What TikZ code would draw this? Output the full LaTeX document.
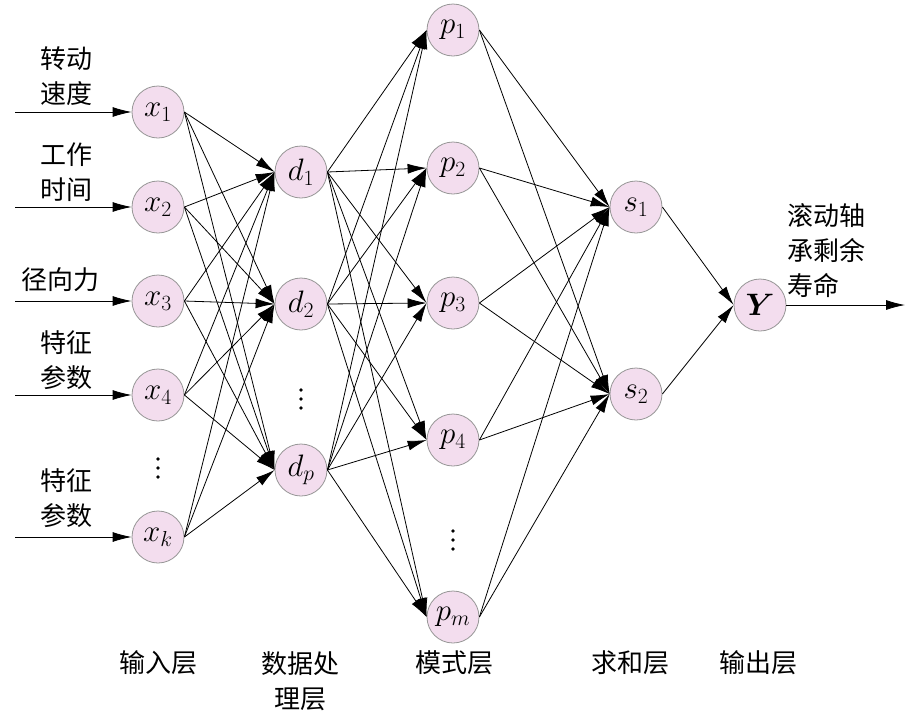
\RequirePackage{fix-cm}
\documentclass[tikz,border=0pt]{standalone}
\usepackage{xcolor}
\usepackage{amsmath}
\usepackage{amssymb}
\usepackage{fontspec}
\usepackage{tikz}
\usetikzlibrary{arrows.meta}
\usetikzlibrary{positioning}
\newfontfamily\cjk{Noto Sans CJK SC}
\definecolor{cellpink}{RGB}{243,221,238}
\definecolor{cellrim}{RGB}{150,150,150}
\tikzset{
  cell/.style={circle,draw=cellrim,fill=cellpink,line width=0.8pt,minimum size=52pt,inner sep=0pt,font=\fontsize{31}{33}\selectfont},
  link/.style={line width=0.8pt,arrows={-Latex[width=10pt,length=19pt]}},
  lbl/.style={align=center,font=\fontsize{26}{35}\selectfont\cjk},
  dotsym/.style={circle,fill=black,inner sep=0pt,minimum size=3.6pt}
}
\begin{document}
\begin{tikzpicture}[x=1pt,y=-1pt]
\useasboundingbox (0,0) rectangle (922,721);
% input layer
\node[cell] (x1) at (158,112) {$x_1$};
\node[cell] (x2) at (158,207) {$x_2$};
\node[cell] (x3) at (158,301) {$x_3$};
\node[cell] (x4) at (158,395) {$x_4$};
\node[cell] (xk) at (158,537) {$x_k$};
\node[dotsym] (xdotA) at (158,459) {};
\node[dotsym] (xdotB) at (158,468) {};
\node[dotsym] (xdotC) at (158,477) {};
% data layer
\node[cell] (d1) at (301,172) {$d_1$};
\node[cell] (d2) at (301,304) {$d_2$};
\node[cell] (dp) at (301,470) {$d_p$};
\node[dotsym] (ddotA) at (301,390) {};
\node[dotsym] (ddotB) at (301,399) {};
\node[dotsym] (ddotC) at (301,408) {};
% pattern layer
\node[cell] (p1) at (453,30) {$p_1$};
\node[cell] (p2) at (453,168) {$p_2$};
\node[cell] (p3) at (453,303) {$p_3$};
\node[cell] (p4) at (453,440) {$p_4$};
\node[cell] (pm) at (453,617) {$p_m$};
\node[dotsym] (pdotA) at (453,531) {};
\node[dotsym] (pdotB) at (453,540) {};
\node[dotsym] (pdotC) at (453,549) {};
% sum and output
\node[cell] (s1) at (636,207) {$s_1$};
\node[cell] (s2) at (636,394) {$s_2$};
\node[cell] (Y) at (760,305) {$\boldsymbol{Y}$};

% inputs
\coordinate (in1) at (15,112);
\coordinate (in2) at (15,207);
\coordinate (in3) at (15,301);
\coordinate (in4) at (15,395);
\coordinate (ink) at (15,537);
\coordinate (out) at (905,305);
\draw[link] (in1) -- (x1.west);
\draw[link] (in2) -- (x2.west);
\draw[link] (in3) -- (x3.west);
\draw[link] (in4) -- (x4.west);
\draw[link] (ink) -- (xk.west);
\draw[link] (Y.east) -- (out);

\node[lbl] (t1) at (66,76) {转动\\速度};
\node[lbl] (t2) at (66,172) {工作\\时间};
\node[lbl] (t3) at (60,280) {径向力};
\node[lbl] (t4) at (66,360) {特征\\参数};
\node[lbl] (t5) at (66,498) {特征\\参数};
\node[lbl,align=left,anchor=west] (tout) at (784,251) {滚动轴\\承剩余\\寿命};

% input -> data
\draw[link] (x1.east) -- (d1.west);
\draw[link] (x1.east) -- (d2.west);
\draw[link] (x1.east) -- (dp.west);
\draw[link] (x2.east) -- (d1.west);
\draw[link] (x2.east) -- (d2.west);
\draw[link] (x2.east) -- (dp.west);
\draw[link] (x3.east) -- (d1.west);
\draw[link] (x3.east) -- (d2.west);
\draw[link] (x3.east) -- (dp.west);
\draw[link] (x4.east) -- (d1.west);
\draw[link] (x4.east) -- (d2.west);
\draw[link] (x4.east) -- (dp.west);
\draw[link] (xk.east) -- (d1.west);
\draw[link] (xk.east) -- (d2.west);
\draw[link] (xk.east) -- (dp.west);
% data -> pattern
\draw[link] (d1.east) -- (p1.west);
\draw[link] (d1.east) -- (p2.west);
\draw[link] (d1.east) -- (p3.west);
\draw[link] (d1.east) -- (p4.west);
\draw[link] (d1.east) -- (pm.west);
\draw[link] (d2.east) -- (p1.west);
\draw[link] (d2.east) -- (p2.west);
\draw[link] (d2.east) -- (p3.west);
\draw[link] (d2.east) -- (p4.west);
\draw[link] (d2.east) -- (pm.west);
\draw[link] (dp.east) -- (p1.west);
\draw[link] (dp.east) -- (p2.west);
\draw[link] (dp.east) -- (p3.west);
\draw[link] (dp.east) -- (p4.west);
\draw[link] (dp.east) -- (pm.west);
% pattern -> sum
\draw[link] (p1.east) -- (s1.west);
\draw[link] (p1.east) -- (s2.west);
\draw[link] (p2.east) -- (s1.west);
\draw[link] (p2.east) -- (s2.west);
\draw[link] (p3.east) -- (s1.west);
\draw[link] (p3.east) -- (s2.west);
\draw[link] (p4.east) -- (s1.west);
\draw[link] (p4.east) -- (s2.west);
\draw[link] (pm.east) -- (s1.west);
\draw[link] (pm.east) -- (s2.west);
% sum -> output
\draw[link] (s1.east) -- (Y.west);
\draw[link] (s2.east) -- (Y.west);

% layer names
\node[lbl] (l1) at (158,663) {输入层};
\node[lbl] (l2) at (300,681) {数据处\\理层};
\node[lbl] (l3) at (454,663) {模式层};
\node[lbl] (l4) at (630,663) {求和层};
\node[lbl] (l5) at (758,663) {输出层};
\end{tikzpicture}
\end{document}
